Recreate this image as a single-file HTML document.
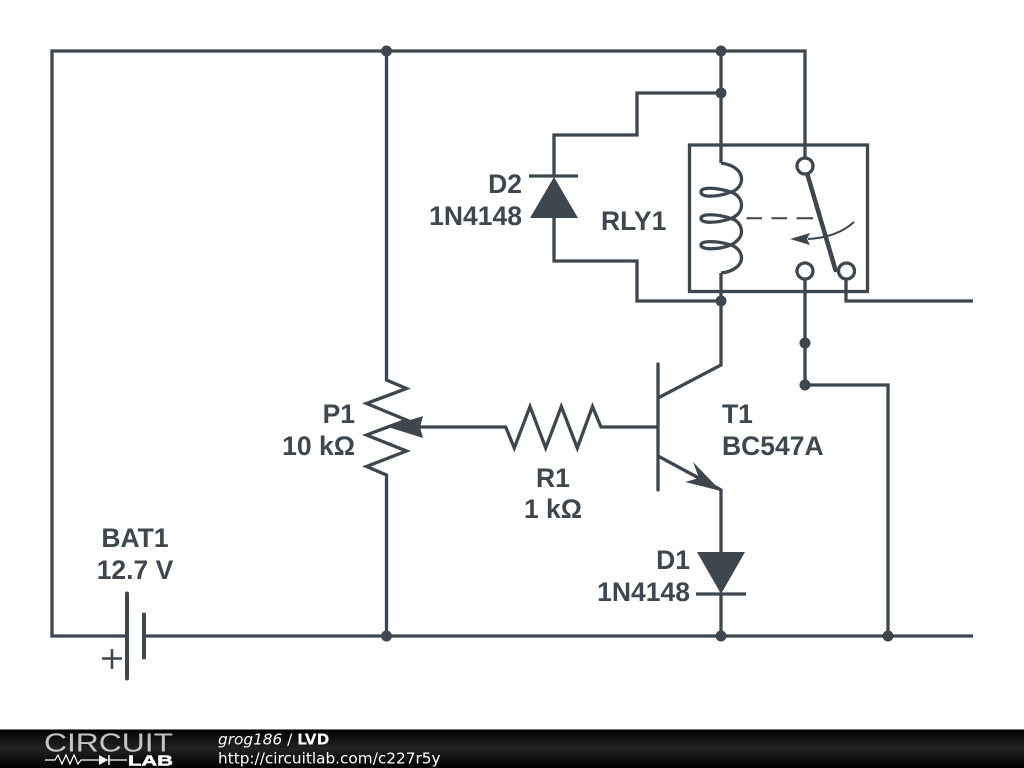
<!DOCTYPE html>
<html>
<head>
<meta charset="utf-8">
<style>
html,body{margin:0;padding:0;background:#fff;width:1024px;height:768px;overflow:hidden}
svg{display:block}
.w{fill:none;stroke:#3d474d;stroke-width:3.300;stroke-linejoin:miter}
.f{fill:#3d474d;stroke:none}
.t{font-family:"Liberation Sans",sans-serif;font-weight:bold;font-size:26.500px;fill:#3d474d}
.e{text-anchor:end}
.m{text-anchor:middle}
.b{font-family:"DejaVu Sans",sans-serif;font-size:15.300px;fill:#fff}
</style>
</head>
<body>
<svg width="1024" height="768" viewBox="0 0 1024 768" xmlns="http://www.w3.org/2000/svg">
<defs>
<linearGradient id="g" x1="0" y1="0" x2="0" y2="1">
<stop offset="0" stop-color="#000"/>
<stop offset="0.5" stop-color="#222"/>
<stop offset="1" stop-color="#000"/>
</linearGradient>
</defs>
<rect width="1024" height="768" fill="#fff"/>

<!-- Wires -->
<path class="w" d="M127,636H52V51H805V157"/>
<path class="w" d="M144,636H973"/>
<path class="w" d="M386.500,51V380L406.500,388.500L366.500,403.500L406.500,420L366.500,435L406.500,451L366.500,466.500L386.500,475V636"/>
<path class="w" d="M721,51V163"/>
<path class="w" d="M721,93H637V135H554V176"/>
<path class="w" d="M554,218V261H637V301H721"/>
<path class="w" d="M721,273V365L658,398"/>
<path class="w" d="M658,427H601L592.500,406.500L577.300,448L561.300,406.500L545.700,448L530,406.500L514.300,448L505.700,427H418"/>
<path class="w" d="M658,456L721,490V552"/>
<path class="w" d="M721,594V636"/>
<path class="w" d="M805,280V385H888V636"/>
<path class="w" d="M846,280V301H973"/>

<!-- Transistor bar -->
<path class="w" stroke-linecap="round" d="M658,364V490"/>

<!-- Pot arrow -->
<polygon class="f" points="388,427 423,416 420,427 423,438"/>
<!-- Transistor arrow -->
<polygon class="f" points="721,491 693,462 699,478 685,482"/>

<!-- D2 -->
<path class="w" d="M529,176H578"/>
<polygon class="f" points="554,177 578,218 530,218"/>
<!-- D1 -->
<path class="w" d="M696,594H746"/>
<polygon class="f" points="721,594 697,552 745,552"/>

<!-- Battery -->
<path d="M127,593.500V678.500" fill="none" stroke="#3d474d" stroke-width="4" stroke-linecap="round"/>
<path d="M144,614.500V657.500" fill="none" stroke="#3d474d" stroke-width="4" stroke-linecap="round"/>
<path d="M102,658.500H122M112,649V669" fill="none" stroke="#3d474d" stroke-width="2.500"/>

<!-- Relay -->
<rect class="w" x="689.500" y="145" width="178" height="146.500"/>
<path class="w" d="M721,163C735,165 742,172 741.500,180C741,187 735,191 731,192C718,188 701,186 701,192C701,198 718,197 731,192C737,194 741.500,199 741.500,205C741.500,213 735,217 731,218.500C718,214 701,213 701,218.500C701,224 718,223 731,218.500C737,220 741.500,225 741.500,232C741.500,238 735,243 731,245C718,241 701,240 701,245C701,250 718,250 731,245C737,247 741.500,252 741.500,258C741.500,266 732,272 721,273"/>
<path d="M746.500,218.300H762M771.500,218.300H787M796.500,218.300H813" fill="none" stroke="#3d474d" stroke-width="2"/>
<path d="M807,173L835.500,270" fill="none" stroke="#3d474d" stroke-width="4.500" stroke-linecap="round"/>
<circle class="w" cx="805" cy="166" r="8" style="fill:#fff"/>
<circle class="w" cx="805" cy="271" r="8" style="fill:#fff"/>
<circle class="w" cx="846.500" cy="271" r="8" style="fill:#fff"/>
<path d="M854,222C842,233 826,238 808,239" fill="none" stroke="#3d474d" stroke-width="2"/>
<polygon class="f" points="790,239 810,233 807,239 810,245"/>

<!-- Junction dots -->
<g class="f">
<circle cx="386.500" cy="51" r="5.500"/>
<circle cx="721" cy="51" r="5.500"/>
<circle cx="721" cy="93" r="5.500"/>
<circle cx="721" cy="301" r="5.500"/>
<circle cx="805" cy="343" r="5.500"/>
<circle cx="805" cy="385" r="5.500"/>
<circle cx="386.500" cy="636" r="5.500"/>
<circle cx="721" cy="636" r="5.500"/>
<circle cx="888" cy="636" r="5.500"/>
</g>

<!-- Labels -->
<text class="t e" x="522" y="193">D2</text>
<text class="t e" x="522" y="225">1N4148</text>
<text class="t" x="601" y="230">RLY1</text>
<text class="t e" x="355" y="423">P1</text>
<text class="t e" x="355" y="455">10 kΩ</text>
<text class="t m" x="553" y="487">R1</text>
<text class="t m" x="553" y="518">1 kΩ</text>
<text class="t" x="722" y="423">T1</text>
<text class="t" x="722" y="455">BC547A</text>
<text class="t e" x="690" y="569">D1</text>
<text class="t e" x="690" y="601">1N4148</text>
<text class="t m" x="135" y="547">BAT1</text>
<text class="t m" x="135" y="579">12.7 V</text>

<!-- Footer -->
<rect x="0" y="729" width="1024" height="39" fill="url(#g)"/>
<rect x="0" y="729" width="1024" height="1" fill="#777"/>
<text x="44" y="751.500" font-family="Liberation Sans, sans-serif" font-size="26" fill="#fff" fill-opacity="0.750" textLength="129" lengthAdjust="spacingAndGlyphs">CIRCUIT</text>
<path d="M45,760H55L58,755L62,764L66,755L70,764L74,755L78,764L81,760H99M108,760H127" fill="none" stroke="#fff" stroke-width="1.200"/>
<polygon points="99,755 99,765 108,760" fill="#fff"/>
<path d="M109,755V765" stroke="#fff" stroke-width="1.500"/>
<text x="128" y="765.500" font-family="Liberation Sans, sans-serif" font-weight="bold" font-size="15" fill="#fff" stroke="#fff" stroke-width="0.500" textLength="45" lengthAdjust="spacingAndGlyphs">LAB</text>
<text class="b" x="218" y="744.500"><tspan font-style="italic">grog186</tspan> / <tspan font-weight="bold">LVD</tspan></text>
<text class="b" x="218" y="763.500">http://circuitlab.com/c227r5y</text>
</svg>
</body>
</html>
